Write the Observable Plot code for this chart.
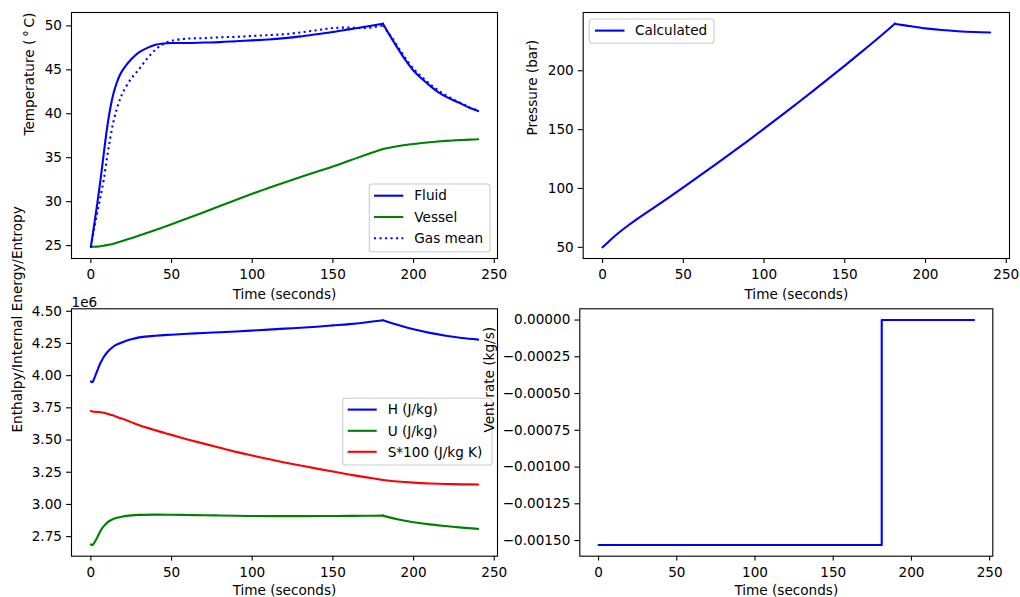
<!DOCTYPE html>
<html><head><meta charset="utf-8">
<script src="https://cdn.jsdelivr.net/npm/d3@7"></script>
<script src="https://cdn.jsdelivr.net/npm/@observablehq/plot@0.6"></script>
<style>
body{margin:0;background:#fff;}
#fig{position:relative;width:1020px;height:597px;overflow:hidden;background:#fff;}
#fig svg{position:absolute;max-width:none;}
</style></head><body><div id="fig"></div>
<script>
// ---- data ----
const time = [0,2,4,6,8,10,12,14,16,18,20,25,30,35,40,45,50,60,70,80,90,100,110,120,130,140,150,160,170,181,185,190,195,200,205,210,215,220,225,230,235,240];
const fluidTemp = [24.85,27.3,29.8,32.5,35.5,38.3,40.6,42.3,43.5,44.4,45.05,46.2,47.0,47.5,47.85,48.0,48.05,48.05,48.1,48.15,48.25,48.35,48.45,48.6,48.8,49.05,49.3,49.6,49.9,50.25,49.0,47.5,46.1,44.9,44.0,43.2,42.5,41.95,41.5,41.1,40.65,40.3];
const vesselTemp = [24.85,24.86,24.88,24.92,24.98,25.05,25.13,25.22,25.32,25.43,25.55,25.84,26.14,26.45,26.77,27.1,27.43,28.11,28.8,29.5,30.2,30.9,31.55,32.18,32.8,33.4,34.0,34.65,35.3,35.98,36.14,36.3,36.44,36.56,36.67,36.76,36.84,36.91,36.97,37.02,37.06,37.1];
const gasMeanTemp = [24.85,26.9,28.8,30.6,32.5,35.0,37.2,39.1,40.5,41.6,42.5,44.0,45.1,46.3,47.3,47.95,48.3,48.55,48.6,48.7,48.75,48.85,48.95,49.05,49.25,49.5,49.75,49.8,49.75,50.05,49.05,47.7,46.3,45.1,44.2,43.4,42.7,42.1,41.6,41.15,40.7,40.35];

const pressureTime = [0,5,10,15,20,30,40,50,60,70,80,90,100,110,120,130,140,150,160,170,181,185,190,200,210,220,230,240];
const pressure = [50,56.5,62.4,67.7,72.6,82.0,91.4,101,110.7,120.5,130.4,140.5,150.8,161.2,171.8,182.5,193.4,204.4,215.6,227,240,239.0,238.0,236.0,234.6,233.6,232.9,232.5];

// energies in units of 1e6 (J/kg), as on the axis
const energyTime = [0,1,2,4,6,8,10,12,15,20,25,30,40,50,60,70,80,90,100,110,120,130,140,150,160,170,181,190,200,210,220,230,240];
const enthalpy = [3.955,3.95,3.975,4.04,4.10,4.145,4.18,4.205,4.235,4.262,4.282,4.297,4.31,4.318,4.325,4.331,4.337,4.343,4.35,4.357,4.365,4.372,4.38,4.39,4.40,4.413,4.43,4.395,4.36,4.332,4.31,4.292,4.28];
const internalEnergy = [2.69,2.685,2.70,2.745,2.795,2.832,2.857,2.875,2.893,2.907,2.915,2.919,2.921,2.92,2.918,2.916,2.914,2.912,2.91,2.909,2.909,2.909,2.91,2.91,2.911,2.912,2.913,2.885,2.862,2.845,2.832,2.82,2.81];
const entropy100 = [3.725,3.722,3.72,3.718,3.716,3.712,3.705,3.697,3.685,3.663,3.639,3.614,3.575,3.54,3.505,3.472,3.44,3.408,3.38,3.352,3.326,3.302,3.278,3.255,3.233,3.212,3.19,3.178,3.169,3.163,3.159,3.156,3.155];

const ventTime = [0,181,240];
const ventRate = [-0.00153,0,0];

const timeTicks = [0,50,100,150,200,250];
const tempTicks = [25,30,35,40,45,50];
const pressureTicks = [50,100,150,200];
const energyTicks = [2.75,3.00,3.25,3.50,3.75,4.00,4.25,4.50];
const ventTicks = [-0.0015,-0.00125,-0.001,-0.00075,-0.0005,-0.00025,0];

const PEAK = 181; // end of filling: series split here so the corner stays sharp

// ---- tables (rows up to and from the peak, peak row in both) ----
function segmented(rows){
  const out = [];
  rows.forEach(r=>{ if (r.t <= PEAK) out.push({...r, seg:"fill"}); });
  rows.forEach(r=>{ if (r.t >= PEAK) out.push({...r, seg:"hold"}); });
  return out;
}
const tempTable = segmented(time.map((t,i)=>({t, fluid: fluidTemp[i], vessel: vesselTemp[i], gas: gasMeanTemp[i]})));
const pressTable = segmented(pressureTime.map((t,i)=>({t, p: pressure[i]})));
const energyTable = segmented(energyTime.map((t,i)=>({t, h: enthalpy[i], u: internalEnergy[i], s: entropy100[i]})));
const ventTable = ventTime.map((t,i)=>({t, v: ventRate[i]}));

const FS = 13.6;
const LW = 2.1;
const BLUE = "#0000ff", GREEN = "#008000", RED = "#ff0000";
const fig = document.getElementById("fig");

function panel(o){
  const marks = [
    Plot.frame({stroke:"black", strokeWidth:1.1}),
    Plot.axisX(timeTicks, {tickSize:4.9, tickPadding:6.4, label:null, strokeWidth:1.1}),
    Plot.axisY(o.yTicks, {tickSize:4.9, tickPadding:4.6, label:null, strokeWidth:1.1, tickFormat:o.yFormat}),
    Plot.text(["Time (seconds)"], {text:d=>d, frameAnchor:"bottom", lineAnchor:"top", dy:o.xlabelDy, fontSize:FS, fill:"black"}),
    Plot.text([o.ylabel], {text:d=>d, frameAnchor:"left", rotate:-90, dx:o.ylabelDx, fontSize:FS, fill:"black"}),
    ...o.marks
  ];
  const svg = Plot.plot({
    width:o.width, height:o.height,
    marginLeft:o.mL, marginRight:o.mR, marginTop:o.mT, marginBottom:o.mB,
    x:{domain:o.xDomain, label:null},
    y:{domain:o.yDomain, label:null},
    style:{fontFamily:"'DejaVu Sans', sans-serif", fontSize:FS+"px", color:"black", background:"transparent", overflow:"visible"},
    marks
  });
  svg.style.left = o.left+"px";
  svg.style.top = o.top+"px";
  fig.appendChild(svg);
  return svg;
}

function legend(svg, L){
  const g = d3.select(svg).append("g");
  g.append("rect").attr("x",L.x).attr("y",L.y).attr("width",L.w).attr("height",L.h)
    .attr("rx",2.8).attr("fill","white").attr("fill-opacity",0.8)
    .attr("stroke","#cccccc").attr("stroke-width",1.1);
  L.rows.forEach(r=>{
    g.append("line").attr("x1",L.l0).attr("x2",L.l1).attr("y1",r.y).attr("y2",r.y)
      .attr("stroke",r.color).attr("stroke-width",LW)
      .attr("stroke-dasharray", r.dash || null);
    g.append("text").attr("x",L.tx).attr("y",r.y).attr("dy","0.35em")
      .attr("text-anchor","start")
      .attr("fill","black").attr("font-size",FS).text(r.label);
  });
}

const smooth = "catmull-rom";

// Panel 1: temperatures
const s1 = panel({
  left:0, top:0, width:510, height:300, mL:71, mR:13, mT:12, mB:42,
  xDomain:[-12,252], yDomain:[23.53,51.52], yTicks:tempTicks, yFormat:d=>String(d),
  ylabel:"Temperature (\u2009\u00b0\u2009C)", ylabelDx:-41.7, xlabelDy:30.5,
  marks:[
    Plot.line(tempTable, {x:"t", y:"vessel", z:"seg", curve:smooth, stroke:GREEN, strokeWidth:LW}),
    Plot.line(tempTable, {x:"t", y:"gas", z:"seg", curve:smooth, stroke:BLUE, strokeWidth:LW, strokeDasharray:"2.1,3.4", strokeLinecap:"butt"}),
    Plot.line(tempTable, {x:"t", y:"fluid", z:"seg", curve:smooth, stroke:BLUE, strokeWidth:LW})
  ]
});
legend(s1, {x:369.3, y:184, w:120.7, h:67.7, l0:374, l1:403.3, tx:414.3, rows:[
  {label:"Fluid", color:BLUE, y:195.7},
  {label:"Vessel", color:GREEN, y:217},
  {label:"Gas mean", color:BLUE, y:238.3, dash:"2.1,3.4"}
]});

// Panel 2: pressure
const s2 = panel({
  left:510, top:0, width:510, height:300, mL:72.7, mR:11, mT:12, mB:42,
  xDomain:[-12,252], yDomain:[40.5,249.5], yTicks:pressureTicks, yFormat:d=>String(d),
  ylabel:"Pressure (bar)", ylabelDx:-50.4, xlabelDy:30.5,
  marks:[
    Plot.line(pressTable, {x:"t", y:"p", z:"seg", curve:smooth, stroke:BLUE, strokeWidth:LW})
  ]
});
legend(s2, {x:79.3, y:19, w:124.7, h:24.3, l0:85, l1:114.5, tx:125, rows:[
  {label:"Calculated", color:BLUE, y:30.6}
]});

// Panel 3: enthalpy / internal energy / entropy
const s3 = panel({
  left:0, top:300, width:510, height:297, mL:71, mR:13, mT:8.3, mB:41.3,
  xDomain:[-12,252], yDomain:[2.598,4.519], yTicks:energyTicks, yFormat:d=>d.toFixed(2),
  ylabel:"Enthalpy/Internal Energy/Entropy", ylabelDx:-54.3, xlabelDy:29.5,
  marks:[
    Plot.line(energyTable, {x:"t", y:"h", z:"seg", curve:smooth, stroke:BLUE, strokeWidth:LW}),
    Plot.line(energyTable, {x:"t", y:"u", z:"seg", curve:smooth, stroke:GREEN, strokeWidth:LW}),
    Plot.line(energyTable, {x:"t", y:"s", z:"seg", curve:smooth, stroke:RED, strokeWidth:LW}),
    Plot.text(["1e6"], {text:d=>d, frameAnchor:"top-left", textAnchor:"start", lineAnchor:"bottom", dy:-2, fontSize:FS, fill:"black"})
  ]
});
legend(s3, {x:342.7, y:98.3, w:149.3, h:66.7, l0:347.7, l1:376.7, tx:387.7, rows:[
  {label:"H (J/kg)", color:BLUE, y:109.6},
  {label:"U (J/kg)", color:GREEN, y:130.8},
  {label:"S*100 (J/kg K)", color:RED, y:151.8}
]});

// Panel 4: vent rate
const s4 = panel({
  left:480, top:300, width:540, height:297, mL:99.3, mR:27.7, mT:8.3, mB:41.3,
  xDomain:[-12,252], yDomain:[-0.0016065,0.0000765], yTicks:ventTicks,
  yFormat:d=> d === 0 ? "0.00000" : "\u2212" + Math.abs(d).toFixed(5),
  ylabel:"Vent rate (kg/s)", ylabelDx:-90, xlabelDy:29.5,
  marks:[
    Plot.line(ventTable, {x:"t", y:"v", stroke:BLUE, strokeWidth:LW, curve:"step-after"})
  ]
});
</script></body></html>
